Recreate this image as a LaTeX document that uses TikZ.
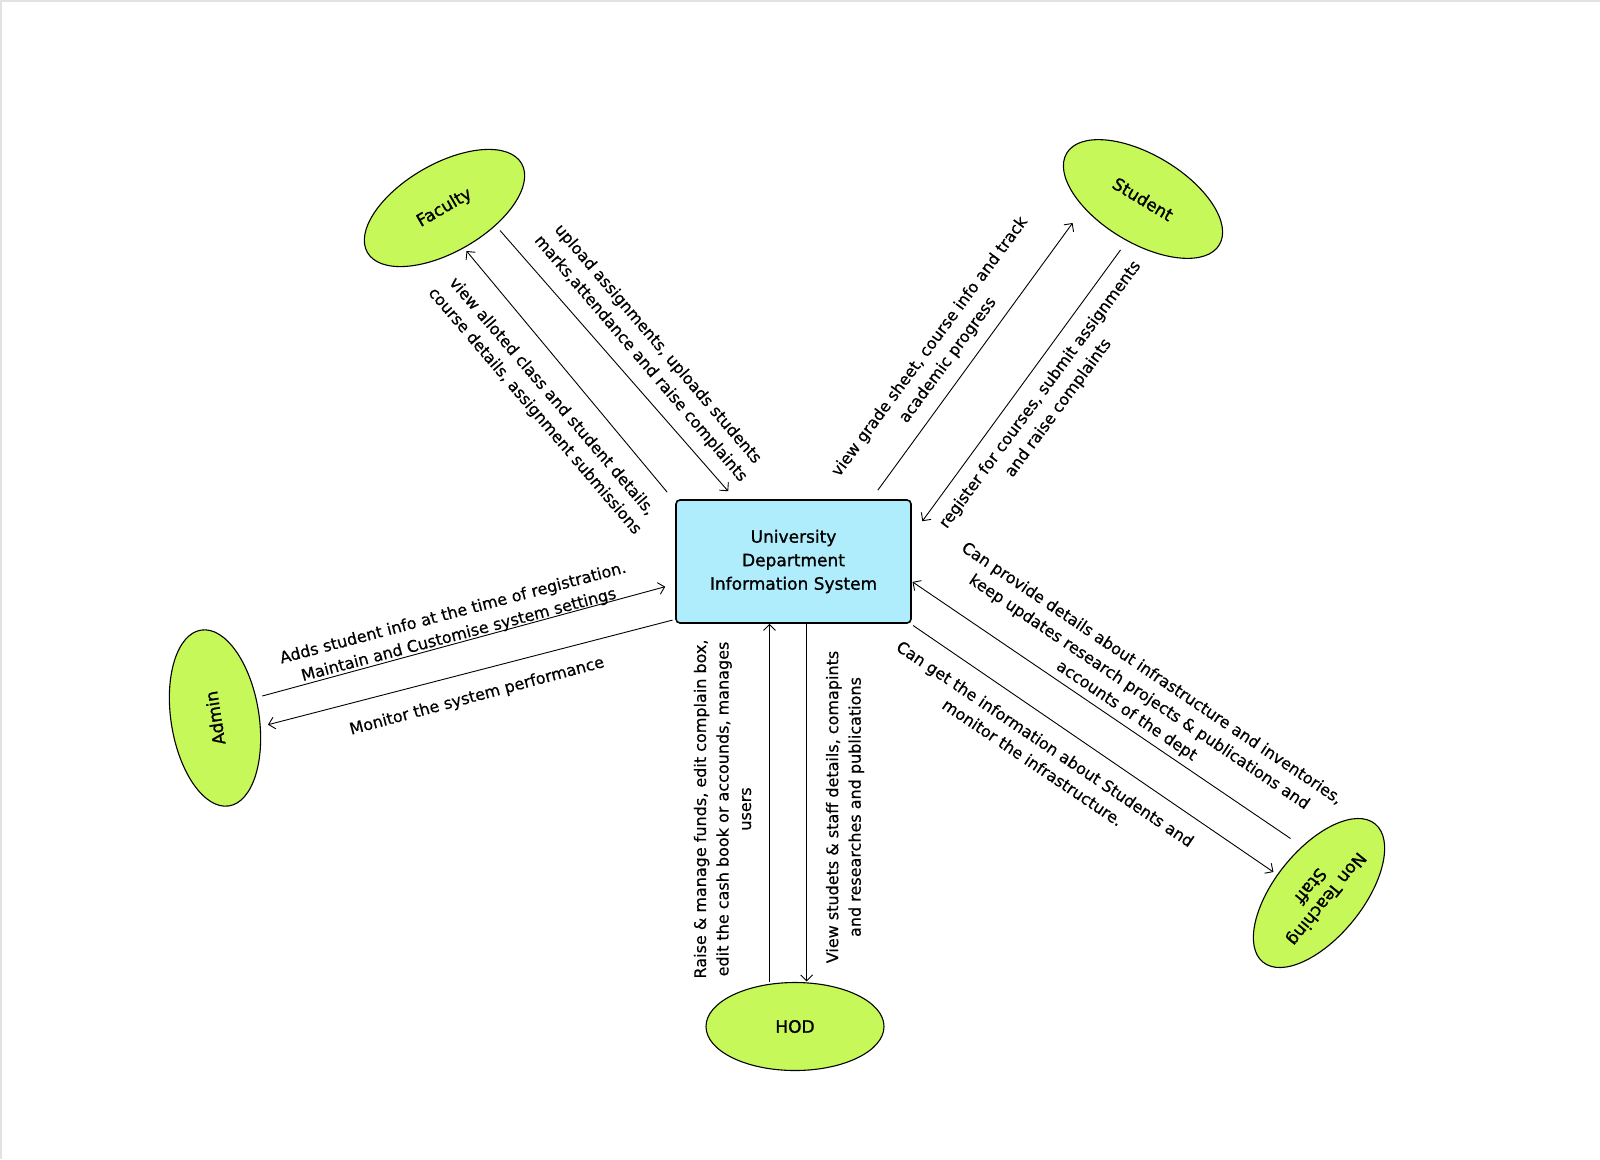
\documentclass[tikz,border=0pt]{standalone}
\usepackage{fontspec}
\setmainfont{DejaVu Sans}
\newfontfamily\heavyfont{DejaVu Sans}[FakeBold=1.2]
\newfontfamily\labelfont{DejaVu Sans}[FakeBold=0.5]
\usetikzlibrary{shapes.geometric,arrows.meta,calc}

\definecolor{actorfill}{RGB}{198,248,90}
\definecolor{sysfill}{RGB}{176,237,252}
\definecolor{framegray}{RGB}{226,226,226}

\begin{document}
\begin{tikzpicture}[x=1pt,y=-1pt,
  actor/.style={ellipse,draw,line width=1.1pt,fill=actorfill,
    minimum width=178pt,minimum height=88pt,inner sep=0pt,align=center,
    font=\heavyfont\fontsize{17}{21}\selectfont},
  sysbox/.style={rectangle,rounded corners=4pt,draw,line width=1.6pt,fill=sysfill,
    minimum width=235pt,minimum height=123pt,inner sep=0pt,align=center,
    font=\heavyfont\fontsize{17}{23.5}\selectfont},
  flow/.style={line width=0.9pt,-{Straight Barb[length=6pt,width=12pt]}},
  lbl/.style={inner sep=0pt,align=center,font=\labelfont\fontsize{16}{22.5}\selectfont}
]
\useasboundingbox (0,0) rectangle (1600,1159);
\fill[white] (0,0) rectangle (1600,1159);
\draw[framegray,line width=2pt] (1600,1) -- (1,1) -- (1,1159);

% central system and the five actors
\node[sysbox] (sys) at (793.5,561.5) {University\\Department\\Information System};
\node[actor,rotate=30]  (faculty) at (444.5,208) {Faculty};
\node[actor,rotate=-31] (student) at (1143,199) {Student};
\node[actor,rotate=99]  (admin)   at (215,718) {Admin};
\node[actor]            (hod)     at (795,1026.5) {HOD};
\node[actor,rotate=231] (nts)     at (1319,893) {Non Teaching\\Staff};

% faculty flows
\draw[flow] ($(sys.north west)+(-8,-7)$) -- ($(faculty)+(22,43)$);
\draw[flow] ($(faculty)+(55.5,22.5)$) -- ($(sys.north west)+(53,-8)$);
\node[lbl,rotate=-49.5] (facup) at (649,351.5)
  {upload assignments, uploads students\\marks,attendance and raise complaints};
\node[lbl,rotate=-49.5] (facview) at (543,404)
  {view alloted class and student details,\\course details, assignment submissions};

% student flows
\draw[flow] ($(sys.north east)+(-34,-9)$) -- ($(student)+(-70.4,24)$);
\draw[flow] ($(student)+(-22.5,51)$) -- ($(sys.north east)+(10.5,22)$);
\node[lbl,rotate=53.6] (stuview) at (939,353.5)
  {view grade sheet, course info and track\\academic progress};
\node[lbl,rotate=53.6] (stureg) at (1049.5,401.5)
  {register for courses, submit assignments\\and raise complaints};

% admin flows
\draw[flow] ($(admin)+(47.3,-22)$) -- ($(sys.north west)+(-10,87.5)$);
\draw[flow] ($(sys.south west)+(-2.7,-3.7)$) -- ($(admin)+(53,6.7)$);
\node[lbl,rotate=14.8] (admadd) at (456,624.5)
  {Adds student info at the time of registration.\\Maintain and Customise system settings};
\node[lbl,rotate=15] (admmon) at (477,696.5) {Monitor the system performance};

% HOD flows
\draw[flow] ($(hod)+(-25.5,-44.5)$) -- ($(sys.south)+(-24,0)$);
\draw[flow] ($(sys.south)+(13.2,0)$) -- ($(hod)+(11.7,-45)$);
\node[lbl,rotate=90] (hodraise) at (722.5,809)
  {Raise \& manage funds, edit complain box,\\edit the cash book or accounds, manages\\users};
\node[lbl,rotate=90] (hodview) at (845,807)
  {View studets \& staff details, comapints\\and researches and publications};

% non teaching staff flows
\draw[flow] ($(nts)+(-28.5,-54.5)$) -- ($(sys.north east)+(0.7,82.7)$);
\draw[flow] ($(sys.south east)+(1.3,1.7)$) -- ($(nts)+(-45.6,-21)$);
\node[lbl,rotate=-34] (ntsprov) at (1139,692.5)
  {Can provide details about infrastructure and inventories,\\keep updates research projects \& publications and\\accounts of the dept};
\node[lbl,rotate=-34] (ntsget) at (1039,753)
  {Can get the information about Students and\\monitor the infrastructure.};
\end{tikzpicture}
\end{document}
